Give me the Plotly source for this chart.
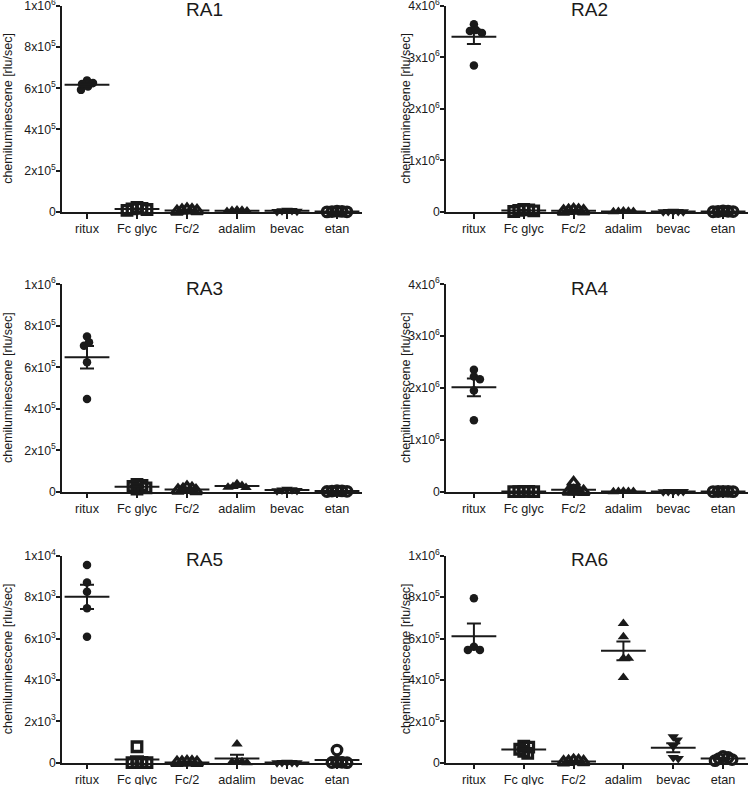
import numpy as np
import plotly.graph_objects as go

categories = ["ritux", "Fc glyc", "Fc/2", "adalim", "bevac", "etan"]
panel_titles = ["RA1", "RA2", "RA3", "RA4", "RA5", "RA6"]

# values per panel: one list per category (ritux, Fc glyc, Fc/2, adalim, bevac, etan)
ra1 = [[638000, 625000, 592000, 621000, 608000],
       [22000, 18000, 15000, 12000, 8000],
       [12000, 9000, 7000, 5000, 2000],
       [10000, 8000, 7000, 5000, 3000],
       [9000, 7000, 6000, 4000, 3000],
       [4000, 3000, 2000, 1000, 500]]
ra2 = [[3640000, 3510000, 3470000, 3530000, 2840000],
       [50000, 40000, 30000, 20000, 10000],
       [40000, 30000, 25000, 15000, 10000],
       [20000, 15000, 10000, 8000, 5000],
       [15000, 10000, 8000, 5000, 3000],
       [20000, 15000, 10000, 8000, 5000]]
ra3 = [[748000, 704000, 720000, 624000, 447000],
       [35000, 30000, 25000, 18000, 12000],
       [20000, 15000, 10000, 6000, 4000],
       [38000, 30000, 25000, 22000, 20000],
       [12000, 10000, 8000, 6000, 4000],
       [5000, 4000, 3000, 2000, 1000]]
ra4 = [[2350000, 2220000, 2170000, 1950000, 1380000],
       [8000, 5000, 3000, 2000, 1000],
       [170000, 10000, 5000, 3000, 2000],
       [8000, 5000, 3000, 2000, 1000],
       [6000, 4000, 3000, 2000, 1000],
       [8000, 6000, 4000, 2000, 1000]]
ra5 = [[9550, 8710, 8260, 7460, 6090],
       [770, 0, 20, 0, 10],
       [10, 30, 0, 20, 5],
       [900, 50, 30, 60, 0],
       [0, 10, 5, 0, 20],
       [610, 30, 0, 20, 10]]
ra6 = [[794000, 560000, 545000, 545000],
       [80000, 75000, 65000, 55000, 45000],
       [10000, 3000, 8000, 2000, 5000],
       [673000, 609000, 504000, 504000, 412000],
       [110000, 125000, 80000, 25000, 20000],
       [30000, 25000, 20000, 15000, 10000]]
panels = [ra1, ra2, ra3, ra4, ra5, ra6]

y_max = [1e6, 4e6, 1e6, 4e6, 1e4, 1e6]
tick_vals_1e6 = [0, 2e5, 4e5, 6e5, 8e5, 1e6]
tick_text_1e6 = ["0", "2x10<sup>5</sup>", "4x10<sup>5</sup>", "6x10<sup>5</sup>", "8x10<sup>5</sup>", "1x10<sup>6</sup>"]
tick_vals_4e6 = [0, 1e6, 2e6, 3e6, 4e6]
tick_text_4e6 = ["0", "1x10<sup>6</sup>", "2x10<sup>6</sup>", "3x10<sup>6</sup>", "4x10<sup>6</sup>"]
tick_vals_1e4 = [0, 2e3, 4e3, 6e3, 8e3, 1e4]
tick_text_1e4 = ["0", "2x10<sup>3</sup>", "4x10<sup>3</sup>", "6x10<sup>3</sup>", "8x10<sup>3</sup>", "1x10<sup>4</sup>"]
panel_ticks = [(tick_vals_1e6, tick_text_1e6), (tick_vals_4e6, tick_text_4e6),
               (tick_vals_1e6, tick_text_1e6), (tick_vals_4e6, tick_text_4e6),
               (tick_vals_1e4, tick_text_1e4), (tick_vals_1e6, tick_text_1e6)]

y_title = "chemiluminescene [rlu/sec]"

# ---------------- styling ----------------
W, H = 750, 785
INK = "#1a1a1a"
FONT = "Liberation Sans, Arial, sans-serif"
symbols = ["circle", "square-open", "triangle-up-open", "triangle-up", "triangle-down", "circle-open"]
sizes = [8.5, 9.5, 10.5, 10, 10, 9.5]

col_px = [(62, 362), (446, 748)]
row_px = [(5.7, 212), (284.3, 491.7), (555.7, 762.7)]
x_ranges = [[-0.5, 5.5], [-0.56, 5.5]]


def swarm(vals, ymax, xpx_per_unit, ypx_total, dmin=6.0):
    n = len(vals)
    yp = [v / ymax * ypx_total for v in vals]
    order = sorted(range(n), key=lambda i: -vals[i])
    cands = [0] + [s * k for k in range(1, 60) for s in (1, -1)]
    placed, offs = [], [0.0] * n
    for i in order:
        chosen = 0
        for c in cands:
            if all((c - px) ** 2 + (yp[i] - py) ** 2 >= dmin ** 2 for px, py in placed):
                chosen = c
                break
        placed.append((chosen, yp[i]))
        offs[i] = chosen / xpx_per_unit
    return offs


fig = go.Figure()
layout = {}
annotations = []

for p in range(6):
    r, c = divmod(p, 2)
    n = p + 1
    xa = "x" if n == 1 else f"x{n}"
    ya = "y" if n == 1 else f"y{n}"
    x0, x1 = col_px[c]
    ytop, ybot = row_px[r]
    xr = x_ranges[c]
    xpx = (x1 - x0) / (xr[1] - xr[0])
    ypx = ybot - ytop
    for gi, vals in enumerate(panels[p]):
        offs = swarm(vals, y_max[p], xpx, ypx, dmin=6.0 if gi == 0 else 4.5)
        fig.add_trace(go.Scatter(
            x=[gi + o for o in offs], y=vals, mode="markers", xaxis=xa, yaxis=ya,
            marker=dict(symbol=symbols[gi], size=sizes[gi], color=INK,
                        line=dict(width=3.3 if "open" in symbols[gi] else 0, color=INK)),
            cliponaxis=False, showlegend=False, hoverinfo="y"))
        arr = np.array(vals, dtype=float)
        mean = arr.mean()
        sem = arr.std(ddof=1) / np.sqrt(len(arr))
        fig.add_trace(go.Scatter(
            x=[gi], y=[mean], mode="markers", xaxis=xa, yaxis=ya,
            marker=dict(symbol="line-ew", size=32, color=INK, line=dict(width=2, color=INK)),
            error_y=dict(type="data", array=[sem], color=INK, thickness=2, width=7),
            cliponaxis=False, showlegend=False, hoverinfo="y"))

    kx = "xaxis" if n == 1 else f"xaxis{n}"
    ky = "yaxis" if n == 1 else f"yaxis{n}"
    layout[kx] = dict(domain=[x0 / W, x1 / W], range=xr, anchor=ya, automargin=False,
                      tickmode="array", tickvals=list(range(6)), ticktext=categories,
                      ticks="outside", ticklen=5, tickwidth=1.5, tickcolor=INK,
                      showline=True, linewidth=1.5, linecolor=INK,
                      showgrid=False, zeroline=False, ticklabeloverflow="allow",
                      ticklabelstandoff=-1,
                      tickfont=dict(size=12.7, color=INK, family=FONT))
    tv, tt = panel_ticks[p]
    layout[ky] = dict(domain=[1 - ybot / H, 1 - ytop / H], range=[0, y_max[p]], anchor=xa,
                      automargin=False,
                      tickmode="array", tickvals=tv, ticktext=tt,
                      ticks="outside", ticklen=4, tickwidth=1.5, tickcolor=INK,
                      showline=True, linewidth=1.5, linecolor=INK,
                      showgrid=False, zeroline=False, ticklabelstandoff=-2,
                      ticklabeloverflow="allow",
                      tickfont=dict(size=12.3, color=INK, family=FONT))
    annotations.append(dict(text=panel_titles[p], xref=f"{xa} domain", yref=f"{ya} domain",
                            x=0.475, y=1, xanchor="center", yanchor="middle", yshift=-4,
                            showarrow=False, font=dict(size=19, color=INK, family=FONT)))
    annotations.append(dict(text=y_title, xref="paper", yref="paper",
                            x=(8 if c == 0 else 406) / W, y=1 - (ytop + ybot) / 2 / H,
                            xanchor="center", yanchor="middle", textangle=-90,
                            showarrow=False, font=dict(size=12.5, color=INK, family=FONT)))

fig.update_layout(width=W, height=H, margin=dict(l=0, r=0, t=0, b=0, autoexpand=False),
                  paper_bgcolor="white", plot_bgcolor="white",
                  font=dict(family=FONT, color=INK), annotations=annotations, **layout)

fig.write_html("out.html", config={"displayModeBar": False},
               post_script="document.body.style.margin='0px';document.body.style.overflow='hidden';")
